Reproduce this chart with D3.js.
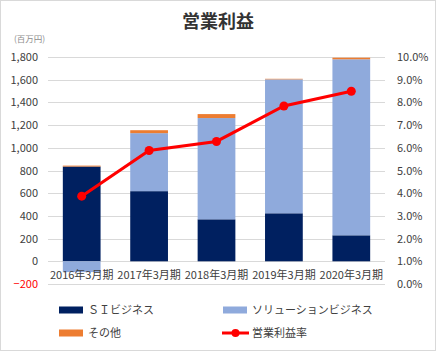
<!DOCTYPE html>
<html>
<head>
<meta charset="utf-8">
<script src="https://cdn.jsdelivr.net/npm/d3@7"></script>
<style>
  body { margin: 0; background: #fff; }
  text { font-family: "Noto Sans CJK JP", "Noto Sans", sans-serif; }
</style>
</head>
<body>
<svg id="chart" width="436" height="351"></svg>
<script>
// data
const categories = ["2016年3月期", "2017年3月期", "2018年3月期", "2019年3月期", "2020年3月期"];
const siValues = [835, 618, 370, 423, 229];
const solutionValues = [-95, 511, 892, 1180, 1551];
const otherValues = [8, 26, 35, 5, 14];
const profitRate = [3.87, 5.88, 6.28, 7.84, 8.49];
const leftTicks = [-200, 0, 200, 400, 600, 800, 1000, 1200, 1400, 1600, 1800];
const rightTicks = [0, 1, 2, 3, 4, 5, 6, 7, 8, 9, 10];

const svg = d3.select("#chart");
const width = +svg.attr("width");
const height = +svg.attr("height");

const margin = { left: 48, right: 51, top: 57, bottom: 67 };
const plotW = width - margin.left - margin.right;

// outer frame
svg.append("rect")
    .attr("x", 0.5).attr("y", 0.5)
    .attr("width", width - 1).attr("height", height - 1)
    .attr("fill", "#fff")
    .attr("stroke", "#d9d9d9");

const x = d3.scaleBand()
    .domain(categories)
    .range([margin.left, margin.left + plotW])
    .paddingInner(0.44)
    .paddingOuter(0.22);

const y = d3.scaleLinear()
    .domain([-200, 1800])
    .range([284, 57]);

const y2 = d3.scaleLinear()
    .domain([0, 10])
    .range([284, 57]);

// title
svg.append("text")
    .attr("x", width / 2).attr("y", 28)
    .attr("text-anchor", "middle")
    .attr("font-size", 18).attr("font-weight", "bold")
    .attr("fill", "#333")
    .text("営業利益");

svg.append("text")
    .attr("x", 14).attr("y", 42)
    .attr("font-size", 8.5)
    .attr("fill", "#8c8c8c")
    .text("(百万円)");

// gridlines
svg.append("g")
    .selectAll("line")
    .data(leftTicks)
    .enter()
    .append("line")
    .attr("x1", margin.left).attr("x2", margin.left + plotW)
    .attr("y1", d => Math.round(y(d)) + 0.5)
    .attr("y2", d => Math.round(y(d)) + 0.5)
    .attr("stroke", "#d9d9d9");

// left axis
const leftAxis = svg.append("g")
    .attr("transform", `translate(${margin.left},0)`)
    .call(d3.axisLeft(y).tickValues(leftTicks).tickSize(0).tickPadding(10).tickFormat(d3.format(",")));
leftAxis.select(".domain").remove();
leftAxis.selectAll("text")
    .attr("font-size", 11)
    .attr("fill", d => d < 0 ? "#ff0000" : "#404040");

// right axis
const rightAxis = svg.append("g")
    .attr("transform", `translate(${margin.left + plotW},0)`)
    .call(d3.axisRight(y2).tickValues(rightTicks).tickSize(0).tickPadding(12).tickFormat(d => d.toFixed(1) + "%"));
rightAxis.select(".domain").remove();
rightAxis.selectAll("text")
    .attr("font-size", 11)
    .attr("fill", "#404040");

// stacked bars
const bars = svg.append("g");
categories.forEach((c, i) => {
    const bx = x(c);
    const bw = x.bandwidth();
    let posBase = 0, negBase = 0;
    const segs = [
        { v: siValues[i], color: "#002060" },
        { v: solutionValues[i], color: "#8faadc" },
        { v: otherValues[i], color: "#ed7d31" }
    ];
    segs.forEach(s => {
        let y0, y1;
        if (s.v >= 0) { y0 = posBase; y1 = posBase + s.v; posBase = y1; }
        else { y0 = negBase + s.v; y1 = negBase; negBase = y0; }
        bars.append("rect")
            .attr("x", bx).attr("width", bw)
            .attr("y", y(y1))
            .attr("height", y(y0) - y(y1))
            .attr("fill", s.color);
    });
});

// category labels
svg.append("g")
    .selectAll("text")
    .data(categories)
    .enter()
    .append("text")
    .attr("x", d => x(d) + x.bandwidth() / 2)
    .attr("y", 279)
    .attr("text-anchor", "middle")
    .attr("font-size", 11)
    .attr("fill", "#404040")
    .text(d => d);

// profit rate line
const line = d3.line()
    .x((d, i) => x(categories[i]) + x.bandwidth() / 2)
    .y(d => y2(d));

svg.append("path")
    .datum(profitRate)
    .attr("d", line)
    .attr("fill", "none")
    .attr("stroke", "#ff0000")
    .attr("stroke-width", 3);

svg.append("g")
    .selectAll("circle")
    .data(profitRate)
    .enter()
    .append("circle")
    .attr("cx", (d, i) => x(categories[i]) + x.bandwidth() / 2)
    .attr("cy", d => y2(d))
    .attr("r", 4.5)
    .attr("fill", "#ff0000");

// legend
const legendItems = [
    { label: "ＳＩビジネス", color: "#002060", shape: "rect", x: 59, y: 310 },
    { label: "ソリューションビジネス", color: "#8faadc", shape: "rect", x: 223, y: 310 },
    { label: "その他", color: "#ed7d31", shape: "rect", x: 59, y: 333 },
    { label: "営業利益率", color: "#ff0000", shape: "line", x: 222, y: 333 }
];

const lg = svg.append("g")
    .selectAll("g")
    .data(legendItems)
    .enter()
    .append("g")
    .attr("transform", d => `translate(${d.x},${d.y})`);

lg.each(function (d) {
    const item = d3.select(this);
    if (d.shape === "rect") {
        item.append("rect")
            .attr("x", 0).attr("y", -3.5)
            .attr("width", 24).attr("height", 7)
            .attr("fill", d.color);
    } else {
        item.append("line")
            .attr("x1", 0).attr("x2", 27)
            .attr("y1", 0).attr("y2", 0)
            .attr("stroke", d.color)
            .attr("stroke-width", 3);
        item.append("circle")
            .attr("cx", 13.5).attr("cy", 0)
            .attr("r", 4)
            .attr("fill", d.color);
    }
});

lg.append("text")
    .attr("x", d => d.shape === "rect" ? 29 : 30)
    .attr("y", 0)
    .attr("dy", "0.35em")
    .attr("font-size", 11)
    .attr("fill", "#404040")
    .text(d => d.label);
</script>
</body>
</html>
